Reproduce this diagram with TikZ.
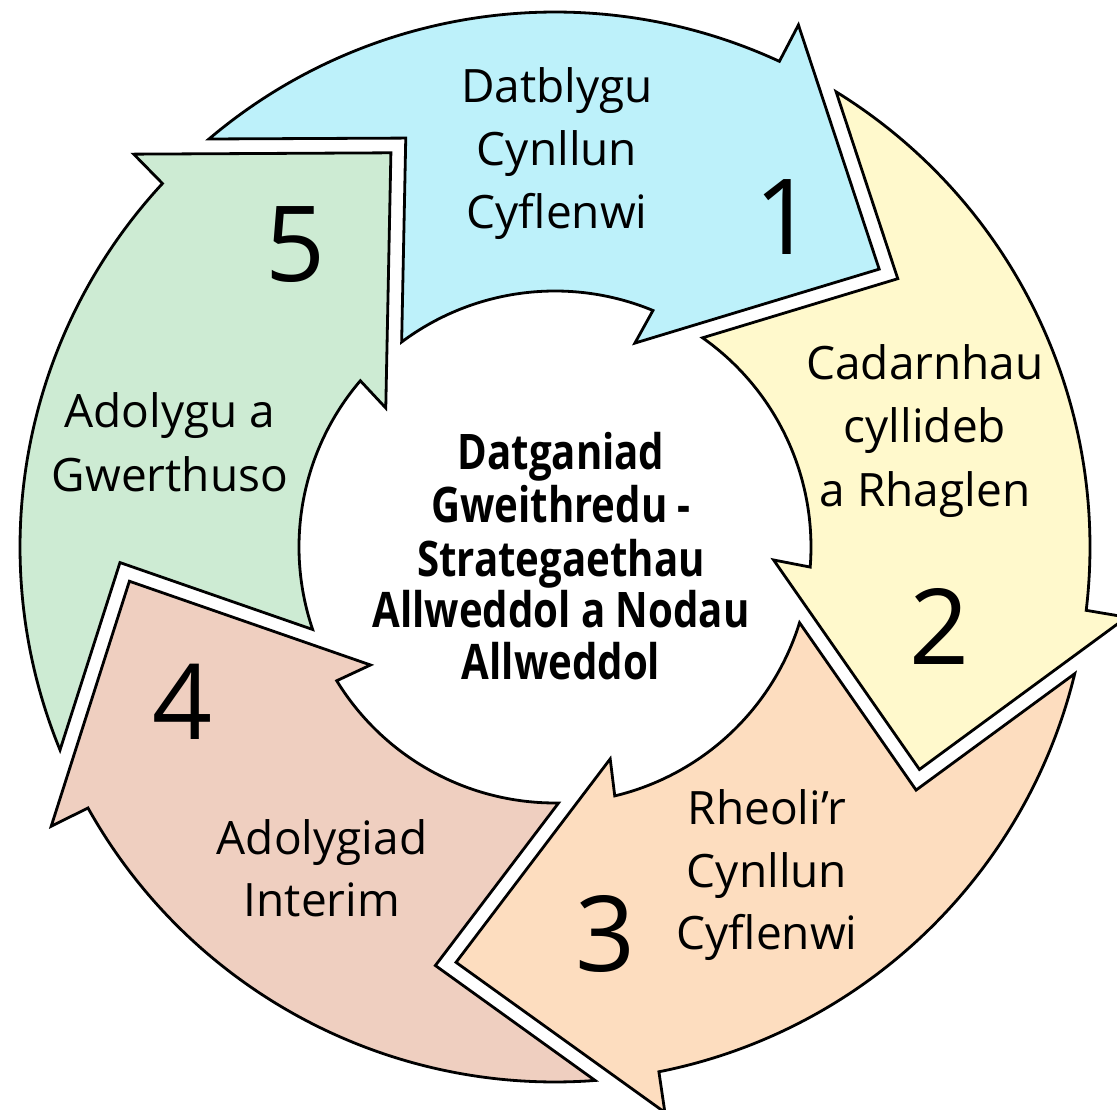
\documentclass[tikz,border=0pt]{standalone}
\usepackage{fontspec}
\setmainfont{Open Sans}
\newfontfamily\ctrfont[FakeStretch=0.82]{Open Sans}
\definecolor{cblue}{HTML}{BDF1FA}
\definecolor{cyellow}{HTML}{FFF9CC}
\definecolor{corange}{HTML}{FDDDBF}
\definecolor{cpink}{HTML}{EFCFC0}
\definecolor{cgreen}{HTML}{CDEBD3}
\newcommand\myCycArrow[2]{%
  \begin{scope}[rotate=#1]
    \filldraw[arrowshape, fill=#2]
      (130.3:535pt) arc[start angle=130.3, end angle=65.2, radius=535pt]
      -- (65.0:576pt) -- (40.6:427pt) -- (68.6:219pt) -- (67.5:256pt)
      arc[start angle=67.5, end angle=126.8, radius=256pt]
      -- (110.05:435.3pt) -- cycle;
  \end{scope}}
\begin{document}
\begin{tikzpicture}[x=1pt,y=1pt,
  arrowshape/.style={draw=black, line width=2.8pt, line join=miter},
  lbl/.style={font=\fontsize{46}{55}\selectfont, anchor=base, inner sep=0pt},
  num/.style={font=\fontsize{105}{110}\selectfont, anchor=base, inner sep=0pt},
  ctr/.style={font=\ctrfont\bfseries\fontsize{49}{55}\selectfont, anchor=base, inner sep=0pt}]
\useasboundingbox (-555,-563) rectangle (562,547);
\myCycArrow{0}{cblue}
\myCycArrow{-72}{cyellow}
\myCycArrow{-144}{corange}
\myCycArrow{-216}{cpink}
\myCycArrow{-288}{cgreen}
% step 1
\node[lbl] (t1a) at (2,444) {Datblygu};
\node[lbl] (t1b) at (2,381) {Cynllun};
\node[lbl] (t1c) at (2,318) {Cyflenwi};
\node[num] (n1) at (230,292) {1};
% step 2
\node[lbl] (t2a) at (370,167) {Cadarnhau};
\node[lbl] (t2b) at (370,104) {cyllideb};
\node[lbl] (t2c) at (370,40) {a Rhaglen};
\node[num] (n2) at (385,-118) {2};
% step 3
\node[lbl] (t3a) at (212,-278) {Rheoli’r};
\node[lbl] (t3b) at (212,-341) {Cynllun};
\node[lbl] (t3c) at (212,-403) {Cyflenwi};
\node[num] (n3) at (51,-425) {3};
% step 4
\node[lbl] (t4a) at (-233,-308) {Adolygiad};
\node[lbl] (t4b) at (-233,-370) {Interim};
\node[num] (n4) at (-372,-193) {4};
% step 5
\node[lbl] (t5a) at (-385,119) {Adolygu a};
\node[lbl] (t5b) at (-385,55) {Gwerthuso};
\node[num] (n5) at (-259,265) {5};
% centre
\node[ctr] (c1) at (6,77) {Datganiad};
\node[ctr] (c2) at (6,24) {Gweithredu -};
\node[ctr] (c3) at (6,-30) {Strategaethau};
\node[ctr] (c4) at (6,-81) {Allweddol a Nodau};
\node[ctr] (c5) at (6,-133) {Allweddol};
\end{tikzpicture}
\end{document}
